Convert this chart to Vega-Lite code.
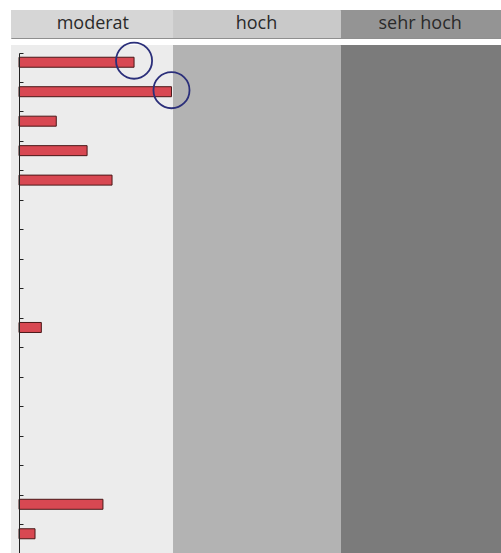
{
  "$schema": "https://vega.github.io/schema/vega-lite/v6.json",
  "padding": {"left": 10, "top": 9, "right": 0, "bottom": 0},
  "bounds": "flush",
  "background": "white",
  "spacing": 7,
  "config": {"view": {"stroke": "#8f8f8f", "strokeWidth": 1}},
  "resolve": {"scale": {"fill": "independent"}},
  "datasets": {
    "stufen": [
      {"stufe": "moderat", "von": -5.2, "bis": 100},
      {"stufe": "hoch", "von": 100, "bis": 209},
      {"stufe": "sehr hoch", "von": 209, "bis": 313.6}
    ],
    "werte": [
      {"zeile": 1, "wert": 74.7, "markiert": true},
      {"zeile": 2, "wert": 99, "markiert": true},
      {"zeile": 3, "wert": 24.2, "markiert": false},
      {"zeile": 4, "wert": 44.2, "markiert": false},
      {"zeile": 5, "wert": 60.4, "markiert": false},
      {"zeile": 10, "wert": 14.5, "markiert": false},
      {"zeile": 16, "wert": 54.5, "markiert": false},
      {"zeile": 17, "wert": 10.4, "markiert": false}
    ]
  },
  "vconcat": [
    {
      "width": 491,
      "height": 28,
      "layer": [
        {
          "data": {"name": "stufen"},
          "mark": {"type": "rect", "strokeWidth": 0},
          "encoding": {
            "x": {"field": "von", "type": "quantitative", "scale": {"domain": [-5.2, 313.6], "nice": false, "zero": false}, "axis": null},
            "x2": {"field": "bis"},
            "fill": {"field": "stufe", "type": "nominal", "legend": null,
              "scale": {"domain": ["moderat", "hoch", "sehr hoch"], "range": ["#d6d6d6", "#c9c9c9", "#949494"]}}
          }
        },
        {
          "data": {"name": "stufen"},
          "mark": {"type": "text", "font": "Open Sans", "fontSize": 18, "color": "#2a2a2a", "baseline": "middle", "dy": 0},
          "encoding": {
            "x": {"field": "stufe", "type": "nominal", "sort": ["moderat", "hoch", "sehr hoch"], "axis": null},
            "text": {"field": "stufe"}
          }
        }
      ],
      "resolve": {"scale": {"x": "independent"}}
    },
    {
      "width": 491,
      "height": 509,
      "layer": [
        {
          "data": {"name": "stufen"},
          "mark": {"type": "rect", "strokeWidth": 0},
          "encoding": {
            "x": {"field": "von", "type": "quantitative", "scale": {"domain": [-5.2, 313.6], "nice": false, "zero": false}, "axis": null},
            "x2": {"field": "bis"},
            "fill": {"field": "stufe", "type": "nominal", "legend": null,
              "scale": {"domain": ["moderat", "hoch", "sehr hoch"], "range": ["#ececec", "#b3b3b3", "#7b7b7b"]}}
          }
        },
        {
          "data": {"name": "werte"},
          "mark": {"type": "bar", "height": 10, "yOffset": -5.5, "fill": "#d84852", "stroke": "#4a1818", "strokeWidth": 1},
          "encoding": {
            "y": {"field": "zeile", "type": "ordinal",
              "scale": {"domain": [1,2,3,4,5,6,7,8,9,10,11,12,13,14,15,16,17], "range": [8, 509], "paddingInner": 0, "paddingOuter": 0},
              "axis": {"title": null, "labels": false, "bandPosition": 0, "offset": -8, "tickSize": -4, "domainColor": "#222222", "tickColor": "#222222", "grid": false, "zindex": 1}},
            "x": {"field": "wert", "type": "quantitative"}
          }
        },
        {
          "data": {"name": "werte"},
          "transform": [{"filter": "datum.markiert"}],
          "mark": {"type": "point", "shape": "circle", "filled": false, "size": 1300, "yOffset": -7, "stroke": "#2b2f7a", "strokeWidth": 1.8, "opacity": 1},
          "encoding": {
            "y": {"field": "zeile", "type": "ordinal"},
            "x": {"field": "wert", "type": "quantitative"}
          }
        }
      ]
    }
  ]
}
